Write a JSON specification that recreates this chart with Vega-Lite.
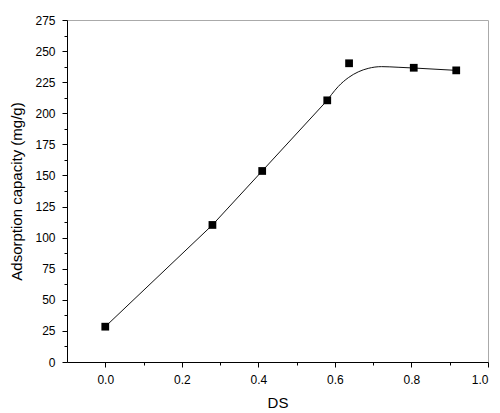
{
  "$schema": "https://vega.github.io/schema/vega-lite/v6.json",
  "width": 421,
  "height": 342,
  "autosize": "none",
  "padding": {"left": 67, "top": 20, "right": 12, "bottom": 51},
  "background": "white",
  "config": {
    "view": {"stroke": "#aaaaaa", "strokeWidth": 1},
    "axis": {
      "labelFont": "Liberation Sans",
      "titleFont": "Liberation Sans",
      "labelFontSize": 12,
      "titleFontSize": 15,
      "titleFontWeight": "normal",
      "labelColor": "#000",
      "titleColor": "#000",
      "domainColor": "#000",
      "tickColor": "#000",
      "grid": false
    }
  },
  "datasets": {
    "points": [
      {"DS": 0.0, "cap": 28.4},
      {"DS": 0.28, "cap": 110.2},
      {"DS": 0.41, "cap": 153.6},
      {"DS": 0.58, "cap": 210.4},
      {"DS": 0.637, "cap": 240.2},
      {"DS": 0.806, "cap": 236.6},
      {"DS": 0.917, "cap": 234.5}
    ],
    "straight": [
      {"DS": 0.0, "cap": 28.4},
      {"DS": 0.28, "cap": 110.2},
      {"DS": 0.41, "cap": 153.6},
      {"DS": 0.58, "cap": 210.4}
    ],
    "bend": [
      {"DS": 0.58, "cap": 210.4},
      {"DS": 0.591, "cap": 215.0},
      {"DS": 0.609, "cap": 221.6},
      {"DS": 0.635, "cap": 228.6},
      {"DS": 0.661, "cap": 233.3},
      {"DS": 0.687, "cap": 236.1},
      {"DS": 0.722, "cap": 237.5},
      {"DS": 0.765, "cap": 237.0},
      {"DS": 0.806, "cap": 236.4},
      {"DS": 0.917, "cap": 234.5}
    ]
  },
  "encoding": {
    "x": {
      "field": "DS", "type": "quantitative",
      "scale": {"domain": [-0.1, 1.0], "nice": false, "zero": false},
      "axis": {
        "title": "DS",
        "values": [0, 0.1, 0.2, 0.3, 0.4, 0.5, 0.6, 0.7, 0.8, 0.9, 1.0],
        "labelExpr": "round(datum.value*10) % 2 == 0 ? format(datum.value, '.1f') : ''",
        "tickSize": {"condition": {"test": "round(datum.value*10) % 2 == 0", "value": 5}, "value": 3},
        "labelOverlap": false,
        "labelPadding": 7,
        "titlePadding": 10
      }
    },
    "y": {
      "field": "cap", "type": "quantitative",
      "scale": {"domain": [0, 275], "nice": false},
      "axis": {
        "title": "Adsorption capacity (mg/g)",
        "values": [0, 12.5, 25, 37.5, 50, 62.5, 75, 87.5, 100, 112.5, 125, 137.5, 150, 162.5, 175, 187.5, 200, 212.5, 225, 237.5, 250, 262.5, 275],
        "labelExpr": "round(datum.value*2) % 50 == 0 ? format(datum.value, 'd') : ''",
        "tickSize": {"condition": {"test": "round(datum.value*2) % 50 == 0", "value": 5}, "value": 3},
        "labelOverlap": false,
        "labelSeparation": 0,
        "labelFlush": false,
        "labelPadding": 7,
        "titlePadding": 10
      }
    }
  },
  "layer": [
    {
      "data": {"name": "straight"},
      "mark": {"type": "line", "interpolate": "linear", "color": "#111", "strokeWidth": 1}
    },
    {
      "data": {"name": "bend"},
      "mark": {"type": "line", "interpolate": "monotone", "color": "#111", "strokeWidth": 1}
    },
    {
      "data": {"name": "points"},
      "mark": {"type": "square", "color": "#000", "opacity": 1, "size": 60, "filled": true}
    }
  ]
}
